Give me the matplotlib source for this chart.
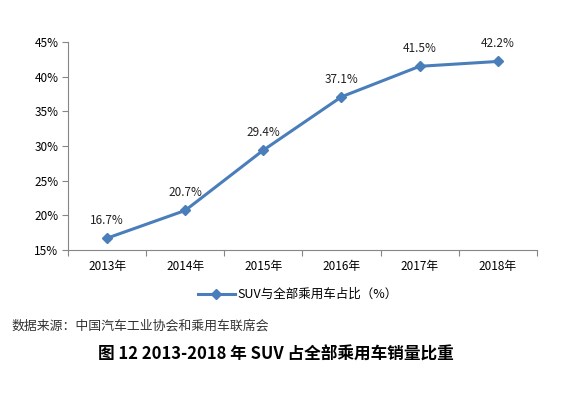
import numpy as np
import matplotlib.pyplot as plt

plt.rcParams['font.family'] = ['Noto Sans CJK SC', 'DejaVu Sans']

years = ['2013年', '2014年', '2015年', '2016年', '2017年', '2018年']
share = [16.7, 20.7, 29.4, 37.1, 41.5, 42.2]
y_ticks = [15, 20, 25, 30, 35, 40, 45]

fig = plt.figure(figsize=(5.69, 3.93), dpi=100)
ax = fig.add_axes([0.1195, 0.364, 0.824, 0.529])

x = np.arange(len(years))
color = '#4a7ebb'
ax.plot(x, share, color=color, lw=2.2, marker='D', ms=5,
        label='SUV与全部乘用车占比（%）')
for xi, v in zip(x, share):
    ax.annotate(f'{v}%', (xi, v), xytext=(0, 8), textcoords='offset points',
                ha='center', va='bottom', fontsize=8.5, color='#222222')

ax.set_xlim(-0.5, len(years) - 0.5)
ax.set_ylim(15, 45)
ax.set_yticks(y_ticks)
ax.set_yticklabels([f'{t}%' for t in y_ticks], fontsize=8.5)
ax.set_xticks(np.arange(-0.5, len(years)), labels=[''] * (len(years) + 1))
ax.set_xticks(x, labels=years, minor=True, fontsize=8.5)
ax.tick_params(axis='x', which='major', length=4, color='#868686')
ax.tick_params(axis='x', which='minor', length=0, pad=7)
ax.tick_params(axis='y', length=4, color='#868686', pad=3)
for s in ['top', 'right']:
    ax.spines[s].set_visible(False)
for s in ['left', 'bottom']:
    ax.spines[s].set_color('#868686')

leg = ax.legend(loc='upper center', bbox_to_anchor=(0.49, -0.13), frameon=False,
                fontsize=9, handlelength=3, handletextpad=0.2)

fig.text(0.021, 0.17, '数据来源：中国汽车工业协会和乘用车联席会', fontsize=9.3,
         color='#333333', va='center')
fig.text(0.485, 0.097, '图 12 2013-2018 年 SUV 占全部乘用车销量比重', fontsize=12,
         fontweight='bold', ha='center', va='center')

fig.savefig('out.png', dpi=100)
